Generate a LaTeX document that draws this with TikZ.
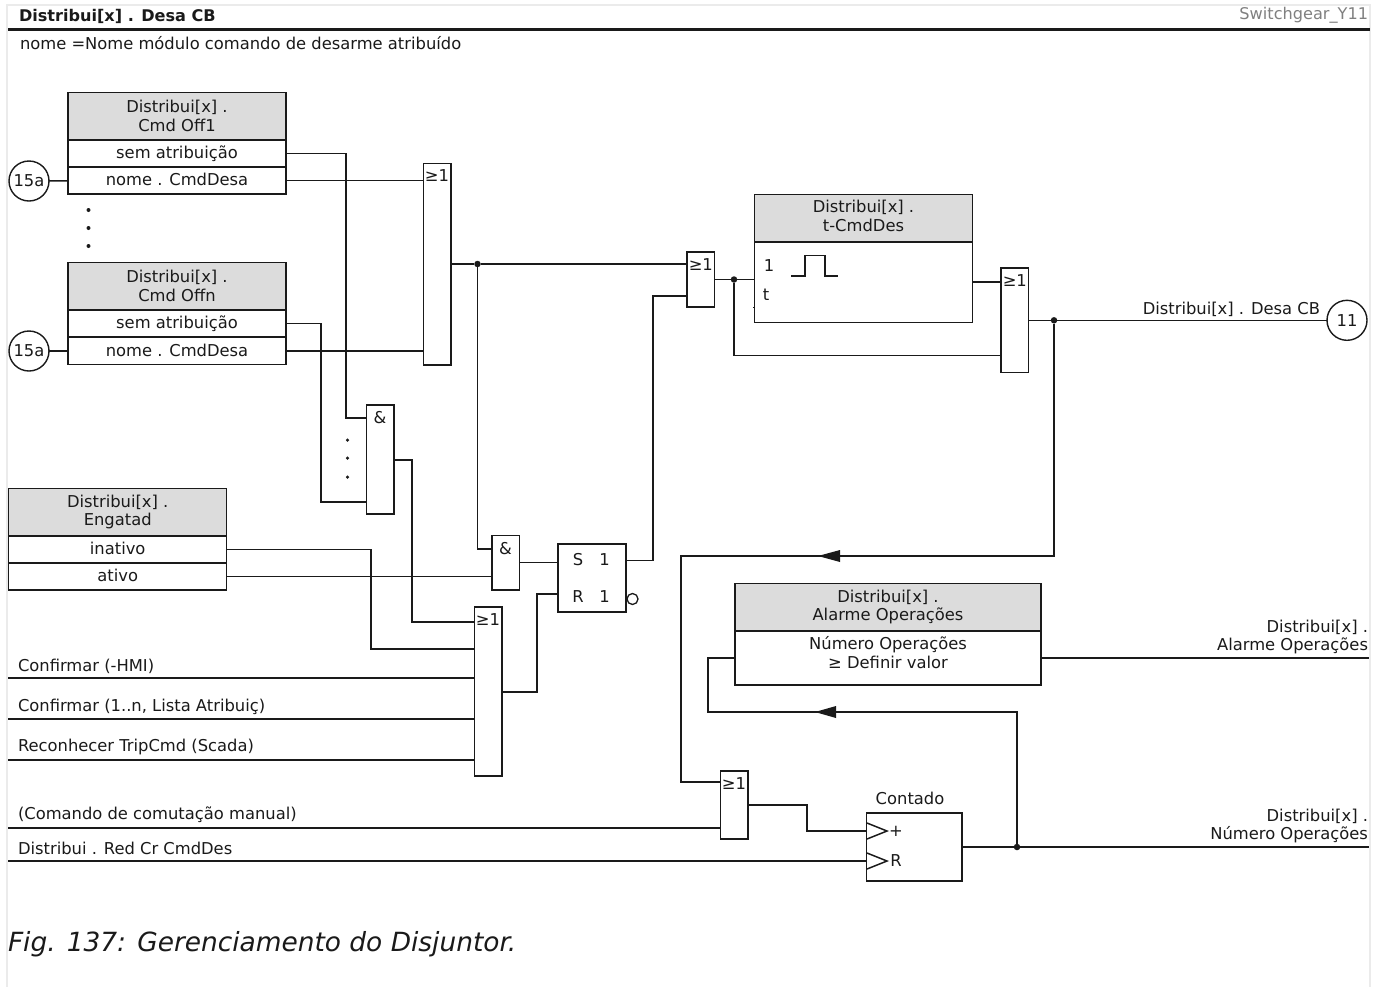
\documentclass[tikz,border=0pt]{standalone}
\usepackage{fontspec}
\setmainfont{DejaVu Sans}
\usetikzlibrary{calc}
\definecolor{hdrgray}{HTML}{DCDCDC}
\definecolor{framegray}{HTML}{EBEBEB}
\definecolor{ink}{HTML}{1A1A1A}
\tikzset{
  base/.style={inner sep=0pt,outer sep=0pt,text=ink,font=\fontsize{16.4}{19}\selectfont},
  wire/.style={draw=ink,line width=1.5bp},
  box/.style={base,draw=ink,line width=1.5bp,align=center,rectangle},
  hdr/.style={box,fill=hdrgray},
  rowbox/.style={box,minimum width=218bp,minimum height=27bp,text height=12bp,text depth=2bp},
  gate/.style={box,minimum width=27.5bp},
  orgate/.style={gate,label={[base,anchor=center,yshift=-12.5bp]north:≥1}},
  andgate/.style={gate,label={[base,anchor=center,yshift=-13bp]north:\&}},
  conn/.style={base,draw=ink,line width=1.4bp,circle,minimum size=40bp},
  dot/.style={circle,fill=ink,inner sep=0pt,outer sep=0pt,minimum size=6.5bp},
  smalldot/.style={circle,fill=ink,inner sep=0pt,outer sep=0pt,minimum size=4bp},
  lbl/.style={base},
  lblL/.style={base,anchor=west},
  lblR/.style={base,anchor=east,align=right},
  tip/.style={fill=ink,draw=none}
}
\begin{document}
\begin{tikzpicture}[x=1bp,y=-1bp]
\useasboundingbox (0,0) rectangle (1381,986);
\fill[white] (0,0) rectangle (1381,986);
\draw[framegray,line width=2bp] (7,990) -- (7,5) -- (1370,5) -- (1370,990);
\coordinate (hl) at (8,29.5);
\coordinate (hr) at (1370,29.5);
\draw[ink,line width=2.6bp] (hl) -- (hr);
\node[lblL,font=\fontsize{16.15}{19}\selectfont\bfseries] (title) at (19,16) {Distribui[x] . Desa CB};
\node[lblR,text=gray,font=\fontsize{16.2}{19}\selectfont] (sw) at (1368,15.5) {Switchgear\_Y11};
\node[lblL] (nome) at (20,43) {nome =Nome módulo comando de desarme atribuído};

% Box A
\node[hdr,minimum width=218bp,minimum height=47.5bp] (aH) at (177,116) {Distribui[x] .\\Cmd Off1};
\node[rowbox] (a1) at (177,153.5) {sem atribuição};
\node[rowbox] (a2) at (177,180.7) {nome . CmdDesa};
% Box B
\node[hdr,minimum width=218bp,minimum height=47.5bp] (bH) at (177,286.3) {Distribui[x] .\\Cmd Offn};
\node[rowbox] (b1) at (177,323.7) {sem atribuição};
\node[rowbox] (b2) at (177,351) {nome . CmdDesa};
\node[conn] (c1) at (29,181) {15a};
\node[conn] (c2) at (29,351) {15a};
\draw[wire] (c1) -- (a2);
\draw[wire] (c2) -- (b2);
\node[smalldot] (d1) at (88.5,210) {};
\node[smalldot] (d2) at (88.5,228) {};
\node[smalldot] (d3) at (88.5,246) {};

% Box C
\node[hdr,minimum width=218bp,minimum height=47.5bp] (cH) at (117.7,512) {Distribui[x] .\\Engatad};
\node[rowbox] (c3) at (117.7,549.5) {inativo};
\node[rowbox] (c4) at (117.7,576.5) {ativo};

% Gates
\node[orgate,minimum height=201.5bp] (or1) at (437,264) {};
\node[andgate,minimum height=109bp] (and1) at (380,459.5) {};
\node[orgate,minimum height=169bp] (or2) at (488,691.5) {};
\node[andgate,minimum height=54.5bp] (and2) at (505.6,562.5) {};
\node[orgate,minimum height=55bp] (or3) at (700.8,279.5) {};
\node[orgate,minimum height=104.5bp] (or4) at (1014.8,320.3) {};
\node[orgate,minimum height=68bp] (or5) at (734,805) {};
\node[smalldot,minimum size=3.5bp] (e1) at (347.5,440) {};
\node[smalldot,minimum size=3.5bp] (e2) at (347.5,458) {};
\node[smalldot,minimum size=3.5bp] (e3) at (347.5,477) {};

% SR
\node[box,minimum width=68bp,minimum height=68bp] (sr) at (592,578) {};
\node[lbl] (srS) at (578,560) {S};
\node[lbl] (srS1) at (604.5,560) {1};
\node[lbl] (srR) at (578,597) {R};
\node[lbl] (srR1) at (604.5,597) {1};
\node[circle,draw=ink,line width=1.3bp,minimum size=11bp,inner sep=0pt] (srN) at (632.5,599) {};

% Box D
\node[hdr,minimum width=218bp,minimum height=47.5bp,text depth=4bp] (dH) at (863.5,218) {Distribui[x] .\\t-CmdDes};
\node[box,minimum width=218bp,minimum height=81bp] (dB) at (863.5,282.2) {};
\node[lbl] (d1t) at (769,266) {1};
\node[lbl] (dtt) at (766,295) {t};
\coordinate (p0) at (791,276);
\coordinate (p1) at (805,276);
\coordinate (p2) at (805,255.5);
\coordinate (p3) at (825,255.5);
\coordinate (p4) at (825,276);
\coordinate (p5) at (838,276);
\draw[wire] (p0) -- (p1) -- (p2) -- (p3) -- (p4) -- (p5);
\coordinate (tk0) at (753,307.7);
\coordinate (tk1) at (755,307.7);
\draw[wire] (tk0) -- (tk1);

% Box E
\node[hdr,minimum width=306bp,minimum height=47.5bp] (eH) at (888,607) {Distribui[x] .\\Alarme Operações};
\node[box,minimum width=306bp,minimum height=54bp] (eB) at (888,658) {};
\node[lbl,align=center] (eT) at (888,652.5) {Número Operações\\≥ Definir valor};

% Counter
\node[box,minimum width=95.5bp,minimum height=68bp] (cnt) at (914.2,847) {};
\node[lbl] (cntT) at (910,798) {Contado};
\node[lbl] (cntP) at (896,831) {+};
\node[lbl] (cntR) at (896,861) {R};
\coordinate (tA) at (867,823);
\coordinate (tB) at (887,831);
\coordinate (tC) at (867,839);
\coordinate (tD) at (867,853);
\coordinate (tE) at (887,861);
\coordinate (tF) at (867,869);
\draw[wire] (tA) -- (tB) -- (tC);
\draw[wire] (tD) -- (tE) -- (tF);

% Junctions
\node[dot] (j1) at (477.5,264) {};
\node[dot] (j2) at (734,279.5) {};
\node[dot] (j3) at (1054,320.3) {};
\node[dot] (j4) at (1017,847) {};
\node[conn] (c11) at (1347,320.3) {11};

% Free ends
\coordinate (in1) at (8,678);
\coordinate (in2) at (8,719);
\coordinate (in3) at (8,760);
\coordinate (in4) at (8,828);
\coordinate (in5) at (8,861);
\coordinate (out1) at (1369,658);
\coordinate (out2) at (1369,847);

% Wires
\draw[wire] (a2.east) -- (a2.east -| or1.west);
\draw[wire] (b2.east) -- (b2.east -| or1.west);
\draw[wire] (a1.east) -- (346,153.5) -- (346,418) -- (346,418 -| and1.west);
\draw[wire] (b1.east) -- (321,323.7) -- (321,502) -- (321,502 -| and1.west);
\draw[wire] (or1.east) -- (j1) -- (j1 -| or3.west);
\draw[wire] (j1) -- (477.5,549) -- (477.5,549 -| and2.west);
\draw[wire] (c4.east) -- (c4.east -| and2.west);
\draw[wire] (c3.east) -- (371,549.5) -- (371,649) -- (371,649 -| or2.west);
\draw[wire] (and1.east |- 0,460) -- (412,460) -- (412,622) -- (412,622 -| or2.west);
\draw[wire] (in1) -- (in1 -| or2.west);
\draw[wire] (in2) -- (in2 -| or2.west);
\draw[wire] (in3) -- (in3 -| or2.west);
\draw[wire] (in4) -- (in4 -| or5.west);
\draw[wire] (in5) -- (in5 -| cnt.west);
\draw[wire] (or2.east |- 0,692) -- (537,692) -- (537,594) -- (537,594 -| sr.west);
\draw[wire] (and2.east) -- (and2.east -| sr.west);
\draw[wire] (sr.east |- 0,560.7) -- (653,560.7) -- (653,296) -- (653,296 -| or3.west);
\draw[wire] (or3.east) -- (j2) -- (j2 -| dB.west);
\draw[wire] (j2) -- (734,355.7) -- (734,355.7 -| or4.west);
\draw[wire] (dB.east) -- (dB.east -| or4.west);
\draw[wire] (or4.east) -- (j3) -- (c11);
\draw[wire] (j3) -- (1054,556) -- (681,556) -- (681,782) -- (681,782 -| or5.west);
\draw[wire] (or5.east) -- (807,805) -- (807,831) -- (807,831 -| cnt.west);
\draw[wire] (eB.east) -- (out1);
\draw[wire] (eB.west) -- (708,658) -- (708,712) -- (1017,712) -- (j4);
\draw[wire] (cnt.east) -- (j4) -- (out2);
\coordinate (a1t) at (818,556);
\coordinate (a1u) at (840,550);
\coordinate (a1v) at (840,562);
\fill[tip] (a1t) -- (a1u) -- (a1v) -- cycle;
\coordinate (a2t) at (815,712);
\coordinate (a2u) at (836,706);
\coordinate (a2v) at (836,718);
\fill[tip] (a2t) -- (a2u) -- (a2v) -- cycle;

% Labels
\node[lblL] (l1) at (18,666) {Confirmar (-HMI)};
\node[lblL] (l2) at (18,707) {Confirmar (1..n, Lista Atribuiç)};
\node[lblL] (l3) at (18,747) {Reconhecer TripCmd (Scada)};
\node[lblL] (l4) at (18,815) {(Comando de comutação manual)};
\node[lblL] (l5) at (18,848.5) {Distribui . Red Cr CmdDes};
\node[lblR] (r1) at (1320,309.5) {Distribui[x] . Desa CB};
\node[lblR] (r2) at (1368,637) {Distribui[x] .\\Alarme Operações};
\node[lblR] (r3) at (1368,826) {Distribui[x] .\\Número Operações};
\node[lblL,font=\fontsize{26.5}{32}\selectfont\itshape] (fig) at (8,944.5) {Fig. 137: Gerenciamento do Disjuntor.};
\end{tikzpicture}
\end{document}
